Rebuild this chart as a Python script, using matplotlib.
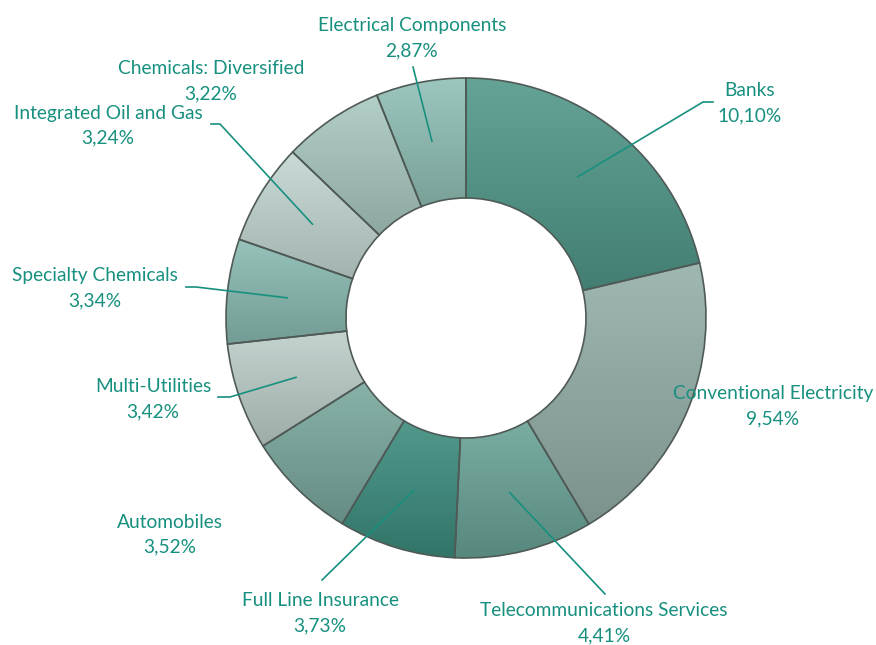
import numpy as np
import matplotlib
matplotlib.use("Agg")
import matplotlib.pyplot as plt
from matplotlib.colors import to_rgb

## data
sectors = ["Banks", "Conventional Electricity", "Telecommunications Services",
           "Full Line Insurance", "Automobiles", "Multi-Utilities",
           "Specialty Chemicals", "Integrated Oil and Gas",
           "Chemicals: Diversified", "Electrical Components"]
weights = [10.10, 9.54, 4.41, 3.73, 3.52, 3.42, 3.34, 3.24, 3.22, 2.87]
pct_labels = ["10,10%", "9,54%", "4,41%", "3,73%", "3,52%", "3,42%",
              "3,34%", "3,24%", "3,22%", "2,87%"]

colors = ["#4f9788", "#93aea7", "#68a296", "#3a8b7c", "#78a79d",
          "#bccdc8", "#88bab0", "#c2d6d1", "#a8c8c0", "#8fbfb5"]

W, H = 876, 645
cx, cy = 466, 318          # pixel coords (y down)
r_out, ring = 240, 120
txt_col = "#17907f"

# label centres (px, y down) for line 1; line 2 sits 25 px lower
label_pos = [(750, 91), (773, 394), (604, 611), (320, 601), (170, 522),
             (153, 387), (95, 276), (108, 113), (211, 69), (412, 26)]
# leader outer points (px), None = no leader
leader_pts = [[(713, 102), (703, 102)], None, [(605, 594)], [(322, 580)], None,
              [(218, 397), (230, 397)], [(186, 287), (196, 287)],
              [(211, 124), (220, 124)], None, [(413, 67)]]

def py(y):
    return H - y

fig = plt.figure(figsize=(W / 100, H / 100), dpi=100)
ax = fig.add_axes([0, 0, 1, 1])
wedges, _ = ax.pie(weights, colors=colors, startangle=90, counterclock=False,
                   radius=r_out, center=(cx, py(cy)),
                   wedgeprops=dict(width=ring, edgecolor="#4f5a57", linewidth=1.2))
ax.set_xlim(0, W)
ax.set_ylim(0, H)
ax.set_aspect("equal")
ax.axis("off")

# vertical gradient inside each slice
for w, c in zip(wedges, colors):
    rgb = np.array(to_rgb(c))
    top = rgb + (1 - rgb) * 0.12
    bot = rgb * 0.84
    t = np.linspace(0, 1, 200)[:, None]
    grad = (bot[None, :] * (1 - t) + top[None, :] * t)[:, None, :]
    ext = w.get_path().get_extents()
    im = ax.imshow(grad, origin="lower", aspect="auto",
                   extent=(ext.x0, ext.x1, ext.y0, ext.y1), zorder=1,
                   interpolation="bilinear")
    im.set_clip_path(w)
    w.set_facecolor("none")
    w.set_zorder(2)
ax.set_xlim(0, W)
ax.set_ylim(0, H)

# labels and leader lines
for i, w in enumerate(wedges):
    x, y = label_pos[i]
    ax.text(x, py(y), sectors[i], ha="center", va="center", color=txt_col,
            fontsize=13.8, family="Lato", zorder=4)
    ax.text(x, py(y + 25), pct_labels[i], ha="center", va="center",
            color=txt_col, fontsize=13.8, family="Lato", zorder=4)
    if leader_pts[i] is not None:
        mid = np.deg2rad((w.theta1 + w.theta2) / 2)
        rm = r_out - ring / 2
        ex, ey = cx + rm * np.cos(mid), cy - rm * np.sin(mid)
        pts = leader_pts[i] + [(ex, ey)]
        ax.plot([p[0] for p in pts], [py(p[1]) for p in pts], color=txt_col,
                lw=1.2, zorder=3)

fig.savefig("out.png", dpi=100)
